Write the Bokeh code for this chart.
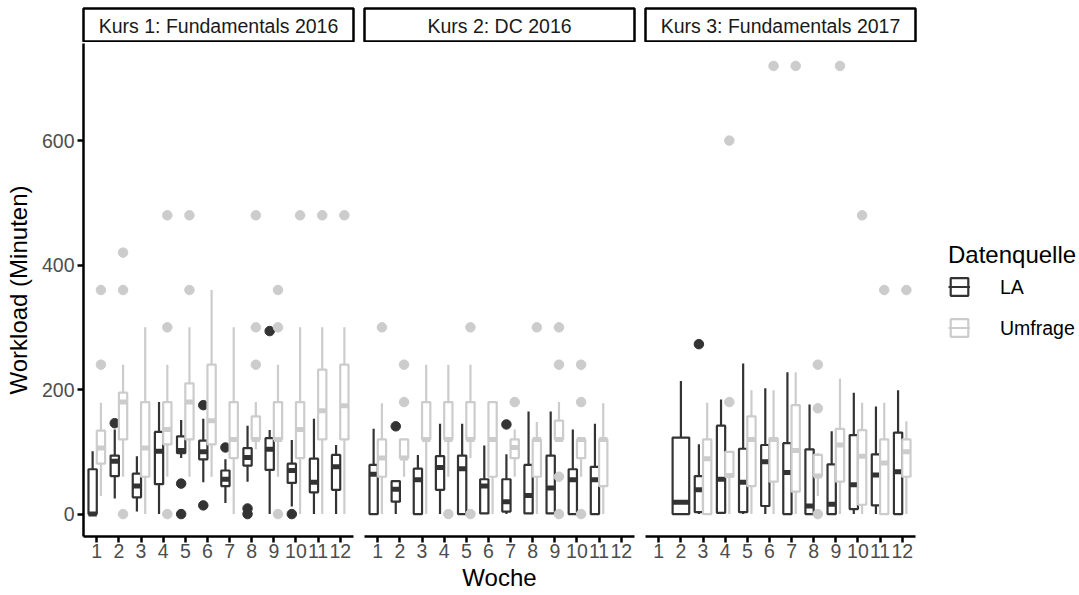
from bokeh.plotting import figure
from bokeh.models import Range1d, FixedTicker, Legend, LegendItem, Label, ColumnDataSource
from bokeh.layouts import row, column
from bokeh.embed import file_html
from bokeh.resources import INLINE

kurse = ["Kurs 1: Fundamentals 2016", "Kurs 2: DC 2016", "Kurs 3: Fundamentals 2017"]
quellen = ["LA", "Umfrage"]
woche_ticks = list(range(1, 13))
y_ticks = [0, 200, 400, 600]

# ---- Kurs 1, LA ----
k1_la_woche = [1, 2, 3, 4, 5, 6, 7, 8, 9, 10, 11, 12]
k1_la_min = [0, 25, 4, 0, 90, 51, 18, 52, 0, 12, 0, 0]
k1_la_q1 = [0, 61, 27, 48, 98, 88, 45, 78, 71, 50, 35, 39]
k1_la_med = [0, 85, 45, 101, 102, 100, 56, 91, 104, 70, 51, 76]
k1_la_q3 = [72, 94, 65, 132, 125, 118, 70, 106, 122, 81, 89, 95]
k1_la_max = [101, 136, 93, 180, 151, 153, 88, 142, 135, 119, 153, 111]
k1_la_out_woche = [2, 5, 5, 6, 6, 7, 8, 8, 9, 10]
k1_la_out_wert = [146, 49, 0, 175, 14, 107, 9, 0, 294, 0]

# ---- Kurs 1, Umfrage ----
k1_um_woche = [1, 2, 3, 4, 5, 6, 7, 8, 9, 10, 11, 12]
k1_um_min = [29, 60, 0, 60, 60, 60, 0, 104, 60, 0, 0, 0]
k1_um_q1 = [81, 120, 60, 112, 120, 112, 90, 120, 120, 90, 120, 120]
k1_um_med = [106, 180, 106, 136, 180, 150, 120, 120, 120, 136, 166, 174]
k1_um_q3 = [134, 195, 180, 180, 210, 240, 180, 157, 180, 180, 232, 240]
k1_um_max = [179, 240, 300, 240, 300, 360, 300, 180, 240, 300, 300, 300]
k1_um_out_woche = [1, 1, 2, 2, 2, 4, 4, 4, 5, 5, 8, 8, 8, 9, 9, 9, 10, 11, 12]
k1_um_out_wert = [240, 360, 0, 360, 420, 300, 0, 480, 360, 480, 240, 300, 480, 360, 300, 0, 480, 480, 480]

# ---- Kurs 2, LA ----
k2_la_woche = [1, 2, 3, 4, 5, 6, 7, 8, 9, 10, 11]
k2_la_min = [0, 0, 0, 0, 0, 0, 0, 0, 0, 0, 0]
k2_la_q1 = [0, 20, 0, 39, 0, 1, 4, 1, 1, 0, 0]
k2_la_med = [64, 40, 55, 75, 73, 45, 20, 30, 42, 55, 55]
k2_la_q3 = [79, 53, 73, 93, 94, 56, 56, 79, 94, 72, 76]
k2_la_max = [137, 53, 95, 145, 145, 110, 96, 165, 165, 136, 145]
k2_la_out_woche = [2, 7]
k2_la_out_wert = [141, 144]

# ---- Kurs 2, Umfrage ----
k2_um_woche = [1, 2, 3, 4, 5, 6, 7, 8, 9, 10, 11]
k2_um_min = [0, 60, 0, 60, 90, 0, 60, 0, 120, 60, 0]
k2_um_q1 = [60, 90, 120, 120, 120, 60, 90, 60, 120, 90, 45]
k2_um_med = [90, 90, 120, 120, 120, 120, 107, 120, 120, 120, 120]
k2_um_q3 = [120, 120, 180, 180, 180, 180, 120, 120, 150, 120, 120]
k2_um_max = [178, 120, 240, 240, 240, 180, 136, 148, 180, 120, 178]
k2_um_out_woche = [1, 2, 2, 4, 5, 5, 7, 8, 9, 9, 9, 9, 10, 10, 10]
k2_um_out_wert = [300, 240, 180, 0, 300, 0, 180, 300, 300, 240, 60, 0, 240, 180, 0]

# ---- Kurs 3, LA ----
k3_la_woche = [2, 3, 4, 5, 6, 7, 8, 9, 10, 11, 12]
k3_la_min = [0, 0, 0, 0, 0, 0, 0, 0, 0, 0, 0]
k3_la_q1 = [0, 3, 2, 3, 13, 0, 0, 0, 8, 14, 0]
k3_la_med = [19, 39, 56, 51, 84, 67, 13, 16, 47, 63, 68]
k3_la_q3 = [123, 61, 142, 105, 111, 114, 104, 80, 127, 96, 131]
k3_la_max = [214, 112, 184, 242, 202, 228, 176, 133, 195, 173, 199]
k3_la_out_woche = [3]
k3_la_out_wert = [273]

# ---- Kurs 3, Umfrage ----
k3_um_woche = [3, 4, 5, 6, 7, 8, 9, 10, 11, 12]
k3_um_min = [0, 0, 0, 0, 0, 29, 0, 0, 0, 0]
k3_um_q1 = [0, 60, 45, 52, 36, 61, 52, 15, 0, 60]
k3_um_med = [89, 62, 120, 120, 102, 61, 111, 93, 82, 100]
k3_um_q3 = [120, 100, 157, 122, 175, 95, 137, 135, 120, 120]
k3_um_max = [179, 100, 199, 199, 228, 98, 218, 179, 179, 149]
k3_um_out_woche = [4, 4, 6, 7, 8, 8, 8, 9, 10, 11, 12]
k3_um_out_wert = [180, 600, 720, 720, 240, 170, 0, 720, 480, 360, 360]

facets = [
    (kurse[0],
     (k1_la_woche, k1_la_min, k1_la_q1, k1_la_med, k1_la_q3, k1_la_max, k1_la_out_woche, k1_la_out_wert),
     (k1_um_woche, k1_um_min, k1_um_q1, k1_um_med, k1_um_q3, k1_um_max, k1_um_out_woche, k1_um_out_wert)),
    (kurse[1],
     (k2_la_woche, k2_la_min, k2_la_q1, k2_la_med, k2_la_q3, k2_la_max, k2_la_out_woche, k2_la_out_wert),
     (k2_um_woche, k2_um_min, k2_um_q1, k2_um_med, k2_um_q3, k2_um_max, k2_um_out_woche, k2_um_out_wert)),
    (kurse[2],
     (k3_la_woche, k3_la_min, k3_la_q1, k3_la_med, k3_la_q3, k3_la_max, k3_la_out_woche, k3_la_out_wert),
     (k3_um_woche, k3_um_min, k3_um_q1, k3_um_med, k3_um_q3, k3_um_max, k3_um_out_woche, k3_um_out_wert)),
]

FARBEN = {"LA": "#333333", "Umfrage": "#CCCCCC"}
FONT = "Liberation Sans"
BOX_W = 0.75
HALF = BOX_W / 2
LW = 2.2
MW = 5
FRAME_W = 270
FRAME_H = 493
BOTTOM = 58
TICK_FS = "19.5px"
TITLE_FS = "24px"
LEFTS = [83, 6, 6]
RIGHTS = [5, 5, 5]
LEG_W = 159


def build_sources(stats, other_weeks, sign):
    wk, mn, q1, md, q3, mx, ow, ov = stats
    xs, ws = [], []
    for w in wk:
        if w in other_weeks:
            xs.append(w + sign * HALF / 2)
            ws.append(HALF)
        else:
            xs.append(w)
            ws.append(BOX_W)
    box = ColumnDataSource(dict(
        x=xs, w=ws,
        x0=[x - wd / 2 for x, wd in zip(xs, ws)],
        x1=[x + wd / 2 for x, wd in zip(xs, ws)],
        lo=mn, q1=q1, med=md, q3=q3, hi=mx))
    oxs = [w + sign * HALF / 2 if w in other_weeks else w for w in ow]
    outl = ColumnDataSource(dict(x=oxs, y=ov))
    return box, outl


strips = []
panels = []
box_sources = {}
for i, (titel, la, um) in enumerate(facets):
    left = LEFTS[i]
    right = RIGHTS[i] + (LEG_W if i == 2 else 0)
    s = figure(frame_width=FRAME_W, frame_height=34, x_range=Range1d(0, 1), y_range=Range1d(0, 1),
               min_border_left=left, min_border_right=right, min_border_top=8, min_border_bottom=0,
               toolbar_location=None, output_backend="svg",
               x_axis_location=None, y_axis_location=None)
    s.grid.visible = False
    s.outline_line_color = "black"
    s.outline_line_width = 2.5
    s.add_layout(Label(x=0.5, y=0.5, text=titel, text_align="center", text_baseline="middle",
                       text_font=FONT, text_font_size=TICK_FS, text_color="#1A1A1A"))
    strips.append(s)

    p = figure(frame_width=FRAME_W, frame_height=FRAME_H,
               x_range=Range1d(0.4, 12.6), y_range=Range1d(-36, 756),
               min_border_left=left, min_border_right=RIGHTS[i], min_border_top=1,
               min_border_bottom=BOTTOM,
               toolbar_location=None, output_backend="svg",
               y_axis_location="left" if i == 0 else None)
    p.grid.visible = False
    p.outline_line_color = None
    p.background_fill_color = "white"

    la_weeks = set(la[0])
    um_weeks = set(um[0])
    for name, stats, other, sign in (("LA", la, um_weeks, -1), ("Umfrage", um, la_weeks, 1)):
        col = FARBEN[name]
        box, outl = build_sources(stats, other, sign)
        box_sources[name] = box
        p.segment(x0="x", y0="lo", x1="x", y1="hi", source=box, line_color=col, line_width=LW)
        p.vbar(x="x", width="w", bottom="q1", top="q3", source=box, fill_color="white",
               line_color=col, line_width=LW)
        p.segment(x0="x0", y0="med", x1="x1", y1="med", source=box, line_color=col, line_width=MW)
        p.scatter(x="x", y="y", source=outl, size=9.5, fill_color=col, line_color=col)

    xa = p.xaxis[0]
    xa.ticker = FixedTicker(ticks=woche_ticks, minor_ticks=[])
    if i == 1:
        xa.axis_label = "Woche"
    for ax in p.axis:
        ax.axis_line_color = "black"
        ax.axis_line_width = 2.5
        ax.major_tick_line_color = "black"
        ax.major_tick_line_width = 2.5
        ax.major_tick_out = 6
        ax.major_tick_in = 0
        ax.minor_tick_line_color = None
        ax.major_label_text_font = FONT
        ax.major_label_text_font_size = TICK_FS
        ax.major_label_text_color = "#4D4D4D"
        ax.axis_label_text_font = FONT
        ax.axis_label_text_font_size = TITLE_FS
        ax.axis_label_text_font_style = "normal"
        ax.axis_label_text_color = "black"
    xa.major_label_standoff = 1
    xa.axis_label_standoff = 3
    if i == 0:
        ya = p.yaxis[0]
        ya.ticker = FixedTicker(ticks=y_ticks, minor_ticks=[])
        ya.axis_label = "Workload (Minuten)"
        ya.major_label_standoff = 3
        ya.axis_label_standoff = 7
    panels.append(p)

# legend panel: keys reuse the Kurs-3 box sources; the renderers are muted
# (muted glyph fully transparent), so only the legend keys are drawn
leg = figure(frame_width=LEG_W, frame_height=FRAME_H,
             x_range=Range1d(0.4, 12.6), y_range=Range1d(-36, 756),
             min_border_left=0, min_border_right=0, min_border_top=1, min_border_bottom=BOTTOM,
             toolbar_location=None, output_backend="svg",
             x_axis_location=None, y_axis_location=None)
leg.grid.visible = False
leg.outline_line_color = None
items = []
for name in quellen:
    col = FARBEN[name]
    src = box_sources[name]
    rb = leg.vbar(x="x", width="w", bottom="q1", top="q3", source=src, fill_color="white",
                  line_color=col, line_width=LW, muted_alpha=0)
    rm = leg.segment(x0="x0", y0="med", x1="x1", y1="med", source=src, line_color=col,
                     line_width=LW, muted_alpha=0)
    rb.muted = True
    rm.muted = True
    items.append(LegendItem(label=name, renderers=[rb, rm]))
legend = Legend(items=items, title="Datenquelle", location="center_left", click_policy="none",
                margin=28, padding=0, spacing=18, glyph_width=22, glyph_height=22,
                label_standoff=30, title_standoff=7,
                label_text_font=FONT, label_text_font_size=TICK_FS, label_text_color="black",
                title_text_font=FONT, title_text_font_size=TITLE_FS, title_text_font_style="normal",
                title_text_color="black",
                background_fill_alpha=0, border_line_alpha=0)
leg.add_layout(legend)

layout = column(row(*strips), row(*panels, leg))

open("out.html", "w").write(file_html(layout, INLINE))
